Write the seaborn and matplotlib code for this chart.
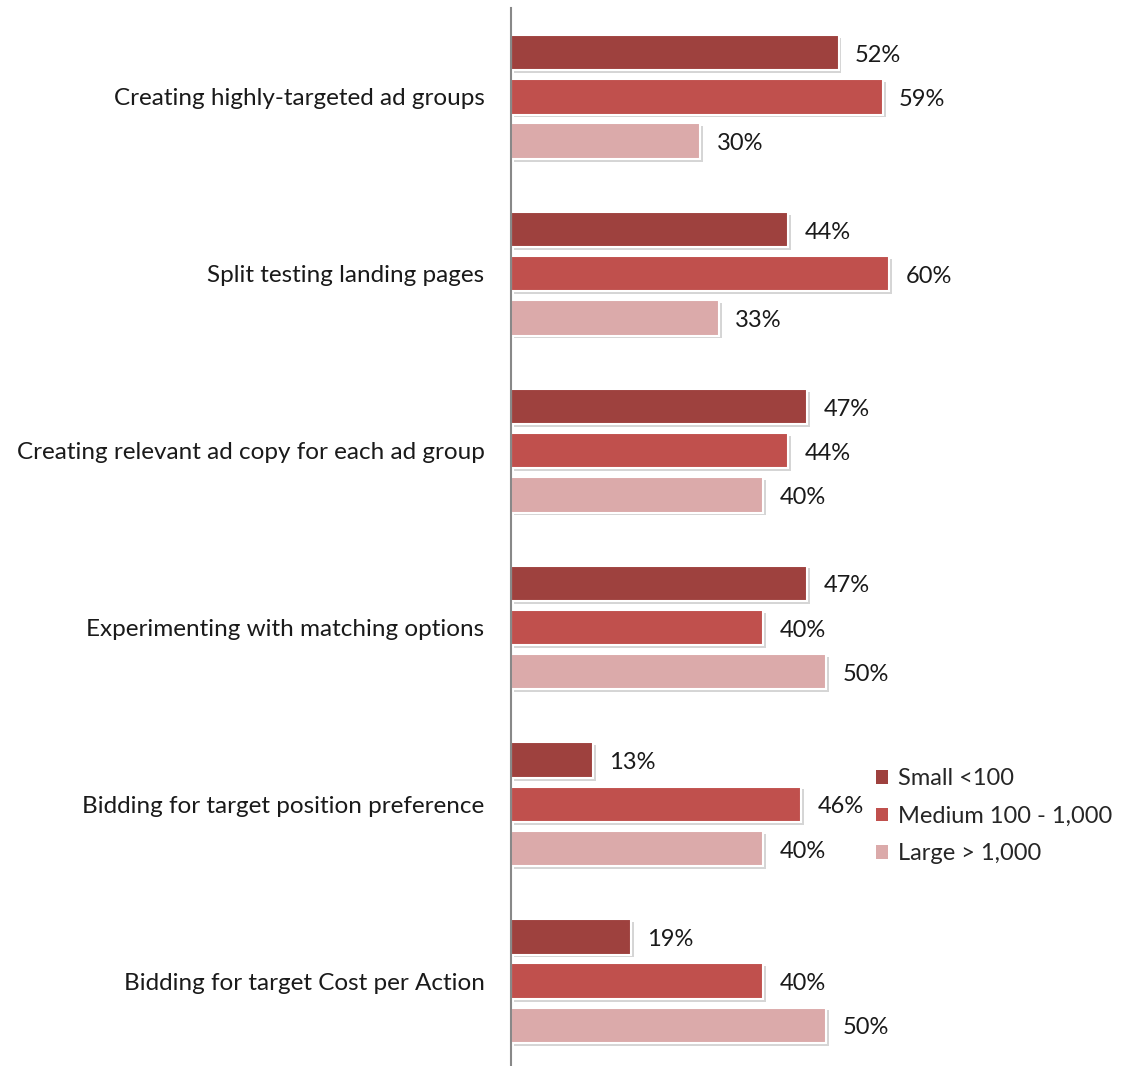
import pandas as pd
import numpy as np
import matplotlib.pyplot as plt
import matplotlib.patheffects as pe
from matplotlib.patches import Patch
import seaborn as sns

# ── data ──
categories = ['Creating highly-targeted ad groups',
              'Split testing landing pages',
              'Creating relevant ad copy for each ad group',
              'Experimenting with matching options',
              'Bidding for target position preference',
              'Bidding for target Cost per Action']
series = ['Small <100', 'Medium 100 - 1,000', 'Large > 1,000']
small  = [52, 44, 47, 47, 13, 19]
medium = [59, 60, 44, 40, 46, 40]
large  = [30, 33, 40, 50, 40, 50]
colors = ['#9E413E', '#C0504D', '#DBAAAA']

df = pd.DataFrame({'task': categories * 3,
                   'size': [s for s in series for _ in categories],
                   'pct': small + medium + large})

sns.set_theme(style='white')
plt.rcParams['font.family'] = ['Lato', 'DejaVu Sans']

fig = plt.figure(figsize=(11.21, 10.66), dpi=100)
ax = fig.add_axes([511 / 1121, 0, 1 - 511 / 1121, 1 - 8 / 1066])

sns.barplot(data=df, y='task', x='pct', hue='size', hue_order=series,
            palette=colors, saturation=1, orient='h', width=0.75, ax=ax,
            legend=False, edgecolor='white', linewidth=1.5)

# thin the bars a bit (bar pitch 0.25, thickness ~0.2) + soft drop shadow
shadow = [pe.SimplePatchShadow(offset=(2, -2), shadow_rgbFace='#888888', alpha=0.35), pe.Normal()]
for p in ax.patches:
    y0, h = p.get_y(), p.get_height()
    p.set_y(y0 + (h - 0.2) / 2)
    p.set_height(0.2)
    p.set_path_effects(shadow)
    w = p.get_width()
    ax.text(w + 2.6, y0 + h / 2 + 0.015, f'{w:.0f}%', va='center', ha='left',
            fontsize=17, color='#1a1a1a')

ax.set_xlim(0, 96.8)
ax.set_ylim(5.48, -0.503)
ax.set_xlabel('')
ax.set_ylabel('')
ax.set_xticks([])
ax.tick_params(axis='y', length=0, pad=19, labelsize=17.5, labelcolor='#1a1a1a')
for s in ['top', 'right', 'bottom']:
    ax.spines[s].set_visible(False)
ax.spines['left'].set_color('#888888')
ax.spines['left'].set_linewidth(1.5)

handles = [Patch(facecolor=c, edgecolor='none', label=s) for s, c in zip(series, colors)]
ax.legend(handles=handles, loc='center left', bbox_to_anchor=(0.598, 0.236),
          frameon=False, fontsize=17, handlelength=0.52, handleheight=0.52,
          handletextpad=0.4, labelspacing=0.7, borderpad=0, borderaxespad=0)

plt.savefig('out.png', dpi=100)
plt.close()
